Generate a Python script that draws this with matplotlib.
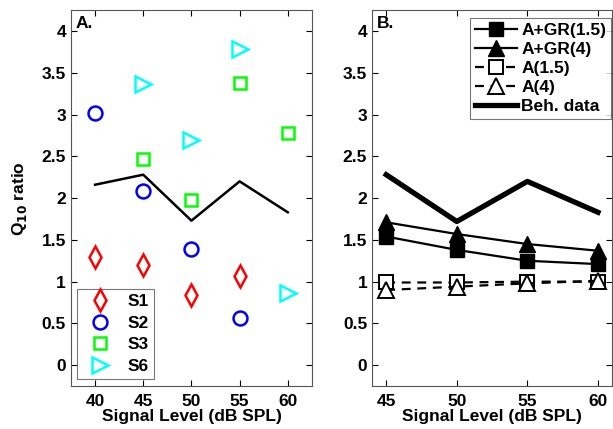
import matplotlib
matplotlib.use('Agg')
import matplotlib.pyplot as plt

plt.rcParams['font.family'] = ['Liberation Sans', 'DejaVu Sans']
plt.rcParams['font.weight'] = 'bold'
plt.rcParams['font.size'] = 12.5

# ---------------- datos panel A ----------------
niveles_s1 = [40, 45, 50, 55]
q10_s1 = [1.29, 1.20, 0.84, 1.07]
niveles_s2 = [40, 45, 50, 55]
q10_s2 = [3.02, 2.09, 1.39, 0.56]
niveles_s3 = [45, 50, 55, 60]
q10_s3 = [2.47, 1.98, 3.38, 2.78]
niveles_s6 = [45, 50, 55, 60]
q10_s6 = [3.37, 2.70, 3.79, 0.87]
niveles_beh_a = [40, 45, 50, 55, 60]
q10_beh_a = [2.16, 2.28, 1.73, 2.20, 1.83]

# ---------------- datos panel B ----------------
niveles_b = [45, 50, 55, 60]
q10_agr15 = [1.54, 1.38, 1.25, 1.21]
q10_agr4 = [1.71, 1.57, 1.45, 1.37]
q10_a15 = [0.99, 0.99, 1.00, 1.00]
q10_a4 = [0.90, 0.94, 0.98, 1.01]
q10_beh_b = [2.28, 1.72, 2.20, 1.83]

fig = plt.figure(figsize=(6.13, 4.29), dpi=100)
axA = fig.add_axes([0.1158, 0.100, 0.393, 0.8765])
axB = fig.add_axes([0.607, 0.100, 0.3915, 0.8765])

def estilo(ax):
    ax.tick_params(direction='in', length=4, top=True, right=True, width=0.8)
    ax.tick_params(axis='x', pad=6)
    for s in ax.spines.values():
        s.set_color('#555555')
        s.set_linewidth(0.8)
    ax.set_ylim(-0.25, 4.25)
    ax.set_yticks([0, 0.5, 1, 1.5, 2, 2.5, 3, 3.5, 4])
    ax.set_yticklabels(['0', '0.5', '1', '1.5', '2', '2.5', '3', '3.5', '4'])
    ax.set_xlabel('Signal Level (dB SPL)', fontweight='bold', labelpad=0)

# ---------------- panel A ----------------
axA.plot(niveles_s1, q10_s1, 'd', color='r', mfc='none', ms=11, mew=1.8, label='S1')
axA.plot(niveles_s2, q10_s2, 'o', color='b', mfc='none', ms=10, mew=1.8, label='S2')
axA.plot(niveles_s3, q10_s3, 's', color=(0, 1, 0), mfc='none', ms=8.5, mew=1.8, label='S3')
axA.plot(niveles_s6, q10_s6, '>', color=(0, 1, 1), mfc='none', ms=11, mew=1.8, label='S6')
axA.plot(niveles_beh_a, q10_beh_a, '-', color='k', lw=1.8)
estilo(axA)
axA.set_xlim(37.5, 62.5)
axA.set_xticks([40, 45, 50, 55, 60])
axA.set_ylabel('Q$_{\\mathbf{10}}$ ratio', fontweight='bold', labelpad=9)
axA.text(0.02, 0.985, 'A.', transform=axA.transAxes, ha='left', va='top', fontweight='bold')
legA = axA.legend(loc='lower left', bbox_to_anchor=(0.027, 0.018), numpoints=1, frameon=True,
                  fancybox=False, edgecolor='#555555', handlelength=2.0, borderpad=0.3,
                  labelspacing=0.38, handletextpad=0.6, borderaxespad=0.0)
legA.get_frame().set_linewidth(0.8)

# ---------------- panel B ----------------
axB.plot(niveles_b, q10_agr15, 's-', color='k', mfc='k', ms=10, lw=1.6, label='A+GR(1.5)')
axB.plot(niveles_b, q10_agr4, '^-', color='k', mfc='k', ms=12, lw=1.6, label='A+GR(4)')
axB.plot(niveles_b, q10_a15, 's--', color='k', mfc='white', ms=10, lw=1.6, mew=1.4,
         dashes=(4, 3), label='A(1.5)')
axB.plot(niveles_b, q10_a4, '^--', color='k', mfc='white', ms=12, lw=1.6, mew=1.4,
         dashes=(4, 3), label='A(4)')
axB.plot(niveles_b, q10_beh_b, '-', color='k', lw=3.8, label='Beh. data')
estilo(axB)
axB.set_xlim(44, 61)
axB.set_xticks([45, 50, 55, 60])
axB.text(0.02, 0.985, 'B.', transform=axB.transAxes, ha='left', va='top', fontweight='bold')
legB = axB.legend(loc='upper right', bbox_to_anchor=(0.997, 0.979), numpoints=1, frameon=True,
                  fancybox=False, edgecolor='#555555', handlelength=2.4, borderpad=0.3,
                  labelspacing=0.22, handletextpad=0.25, borderaxespad=0.0)
legB.get_frame().set_linewidth(0.8)

fig.savefig('out.png', dpi=100)
